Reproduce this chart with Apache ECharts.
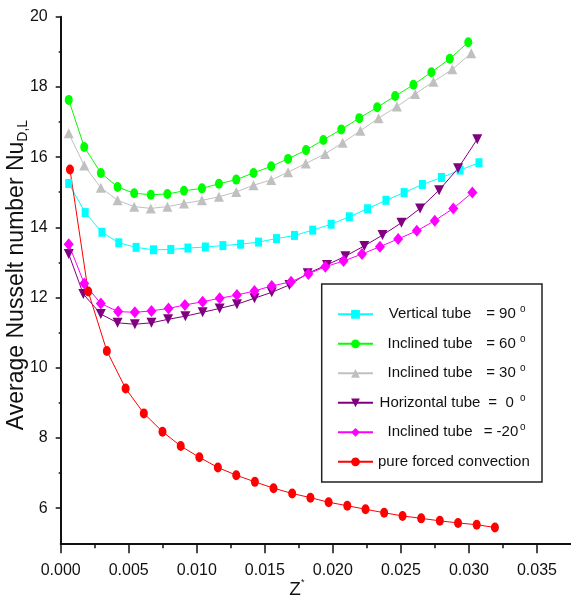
<!DOCTYPE html>
<html><head><meta charset="utf-8">
<script src="https://cdn.jsdelivr.net/npm/echarts@6/dist/echarts.min.js"></script>
<style>html,body{margin:0;padding:0;background:#fff}#c{width:571px;height:599px}</style>
</head><body><div id="c"></div>
<script>
// ---- data ----
const xVertical = [0.00059,0.00180,0.00303,0.00427,0.00554,0.00682,0.00809,0.00935,0.01063,0.01192,0.01322,0.01454,0.01586,0.01718,0.01852,0.01987,0.02121,0.02255,0.02390,0.02524,0.02658,0.02798,0.02935,0.03074];
const yVertical = [15.25,14.42,13.86,13.56,13.43,13.36,13.37,13.41,13.44,13.48,13.52,13.58,13.68,13.77,13.92,14.09,14.30,14.53,14.77,14.99,15.22,15.42,15.63,15.84];

const xIncl60 = [0.00059,0.00173,0.00295,0.00418,0.00540,0.00662,0.00784,0.00906,0.01038,0.01163,0.01290,0.01417,0.01547,0.01671,0.01803,0.01930,0.02062,0.02194,0.02326,0.02458,0.02592,0.02724,0.02859,0.02995];
const yIncl60 = [17.63,16.29,15.55,15.15,14.97,14.93,14.95,15.04,15.11,15.24,15.36,15.55,15.74,15.95,16.20,16.49,16.79,17.11,17.42,17.74,18.06,18.42,18.80,19.27];

const xIncl30 = [0.00059,0.00173,0.00295,0.00418,0.00540,0.00662,0.00784,0.00906,0.01038,0.01163,0.01290,0.01417,0.01547,0.01671,0.01801,0.01943,0.02072,0.02202,0.02336,0.02471,0.02605,0.02739,0.02878,0.03017];
const yIncl30 = [16.68,15.76,15.13,14.77,14.59,14.54,14.59,14.68,14.77,14.87,15.01,15.20,15.35,15.57,15.82,16.09,16.41,16.75,17.11,17.44,17.80,18.15,18.50,18.96];

const xHoriz = [0.00059,0.00166,0.00295,0.00418,0.00545,0.00667,0.00789,0.00916,0.01043,0.01168,0.01295,0.01424,0.01551,0.01681,0.01815,0.01957,0.02092,0.02231,0.02365,0.02504,0.02641,0.02781,0.02920,0.03061];
const yHoriz = [13.24,12.10,11.53,11.28,11.24,11.28,11.38,11.47,11.58,11.69,11.81,11.98,12.15,12.36,12.69,12.93,13.18,13.47,13.78,14.13,14.54,15.06,15.68,16.51];

const xInclM20 = [0.00059,0.00173,0.00295,0.00422,0.00545,0.00667,0.00792,0.00913,0.01043,0.01168,0.01295,0.01424,0.01551,0.01693,0.01820,0.01945,0.02079,0.02214,0.02346,0.02480,0.02617,0.02749,0.02885,0.03025];
const yInclM20 = [13.52,12.40,11.83,11.60,11.58,11.62,11.69,11.79,11.88,11.98,12.07,12.19,12.33,12.45,12.67,12.88,13.04,13.24,13.45,13.67,13.90,14.19,14.54,14.99];

const xForced = [0.00068,0.00202,0.00339,0.00477,0.00611,0.00748,0.00882,0.01019,0.01155,0.01290,0.01427,0.01564,0.01701,0.01835,0.01969,0.02106,0.02240,0.02377,0.02512,0.02649,0.02786,0.02920,0.03057,0.03191];
const yForced = [15.65,12.17,10.48,9.41,8.70,8.18,7.77,7.45,7.16,6.94,6.75,6.57,6.42,6.30,6.17,6.07,5.97,5.87,5.78,5.71,5.64,5.58,5.53,5.45];

const seriesNames = ['Vertical tube','Inclined tube 60','Inclined tube 30','Horizontal tube','Inclined tube -20','pure forced convection'];
const legendLabels = ['Vertical tube','Inclined tube','Inclined tube','Horizontal tube','Inclined tube',''];
const legendAngles = ['= 90','= 60','= 30','=  0','= -20',''];

const xMajorTicks = [0,0.005,0.010,0.015,0.020,0.025,0.030,0.035];
const xMinorTicks = [0.0025,0.0075,0.0125,0.0175,0.0225,0.0275,0.0325];
const yMajorTicks = [6,8,10,12,14,16,18,20];
const yMinorTicks = [7,9,11,13,15,17,19];

// ---- chart ----
const pair = (xs, ys) => xs.map((x, i) => [x, ys[i]]);
const SANS = '"Liberation Sans",Arial,sans-serif';

const styles = [
  {color:'#00ffff', symbol:'rect', size:[7,9]},
  {color:'#00ff00', symbol:'circle', size:[8,10]},
  {color:'#c0c0c0', symbol:'triangle', size:[10,10]},
  {color:'#800080', symbol:'triangle', size:[10,10], rotate:180},
  {color:'#ff00ff', symbol:'diamond', size:[10,12]},
  {color:'#ff0000', symbol:'circle', size:[8,10]}
];
const datasets = [pair(xVertical,yVertical),pair(xIncl60,yIncl60),pair(xIncl30,yIncl30),pair(xHoriz,yHoriz),pair(xInclM20,yInclM20),pair(xForced,yForced)];

const series = datasets.map((d, i) => ({
  name: seriesNames[i], type: 'line', data: d,
  xAxisIndex: 0, yAxisIndex: 0,
  symbol: styles[i].symbol, symbolSize: styles[i].size, symbolRotate: styles[i].rotate || 0,
  showAllSymbol: true,
  lineStyle: {color: styles[i].color, width: 1},
  itemStyle: {color: styles[i].color},
  emphasis: {disabled: true}
}));

const axisCommon = {axisLine:{show:false}, splitLine:{show:false}};

const chart = echarts.init(document.getElementById('c'), null, {renderer:'canvas'});
chart.setOption({
  animation: false,
  backgroundColor: '#fff',
  grid: {left: 60.7, right: 0, top: 16.7, bottom: 55.7, containLabel: false, outerBoundsMode: 'none'},
  xAxis: [
    {type:'value', min:0, max:0.0375, interval:0.005,
     axisLine:{show:true, onZero:false, lineStyle:{color:'#111', width:2}},
     axisTick:{show:true, length:10, customValues:xMajorTicks, lineStyle:{color:'#111', width:1.5}},
     axisLabel:{customValues:xMajorTicks, margin:19, color:'#111', fontSize:16, fontFamily:SANS,
       formatter: v => v.toFixed(3)},
     splitLine:{show:false},
     name:'{z|Z}{s|*}', nameLocation:'middle', nameGap:35, nameMoveOverlap:false,
     nameTextStyle:{padding:[0,38,0,0], rich:{z:{fontSize:19, fontFamily:SANS, color:'#111', lineHeight:22}, s:{fontSize:9, fontFamily:SANS, color:'#111', lineHeight:9, padding:[0,0,13,0]}}}
    },
    {type:'value', min:0, max:0.0375, interval:0.0025, position:'bottom', ...axisCommon,
     axisTick:{show:true, length:5, customValues:xMinorTicks, lineStyle:{color:'#111', width:1.5}},
     axisLabel:{show:false}}
  ],
  yAxis: [
    {type:'value', min:5, max:20, interval:1,
     axisLine:{show:true, onZero:false, lineStyle:{color:'#111', width:2}},
     axisTick:{show:true, length:5, customValues:yMajorTicks, lineStyle:{color:'#111', width:1.5}},
     axisLabel:{customValues:yMajorTicks, margin:13, color:'#111', fontSize:16, fontFamily:SANS},
     splitLine:{show:false},
     name:'{t|Average Nusselt number Nu}{sub|D,L}', nameLocation:'middle', nameGap:31, nameRotate:90, nameMoveOverlap:false,
     nameTextStyle:{padding:[0,0,0,10], rich:{t:{fontSize:23, fontFamily:SANS, color:'#111', lineHeight:26}, sub:{fontSize:14, fontFamily:SANS, color:'#111', lineHeight:14, verticalAlign:'bottom'}}}
    },
    {type:'value', min:5, max:20, interval:1, position:'left', ...axisCommon,
     axisTick:{show:true, length:2, customValues:yMinorTicks, lineStyle:{color:'#111', width:1.5}},
     axisLabel:{show:false}}
  ],
  legend: {
    orient:'vertical', left:337, top:304.3, padding:0,
    itemWidth:35, itemHeight:11, itemGap:9.5,
    data: seriesNames,
    selectedMode:false,
    formatter: name => {
      const i = seriesNames.indexOf(name);
      if (!legendAngles[i]) return '{p|' + name + '}';
      return '{a|' + legendLabels[i] + '}{b|' + legendAngles[i] + '}{s|o}';
    },
    textStyle:{color:'#111', fontFamily:SANS, fontSize:15, lineHeight:20,
      rich:{
        a:{width:104, align:'center', fontSize:15, fontFamily:SANS, lineHeight:20},
        b:{width:38, align:'right', fontSize:15, fontFamily:SANS, lineHeight:20},
        s:{fontSize:10, fontFamily:SANS, lineHeight:10, padding:[0,0,10,0]},
        p:{fontSize:15, fontFamily:SANS, lineHeight:20}
      }}
  },
  graphic: [{type:'rect', z:-1, shape:{x:321.7, y:284, width:220.3, height:198}, style:{fill:'none', stroke:'#222', lineWidth:1.5}}],
  series: series
});
</script>
</body></html>
